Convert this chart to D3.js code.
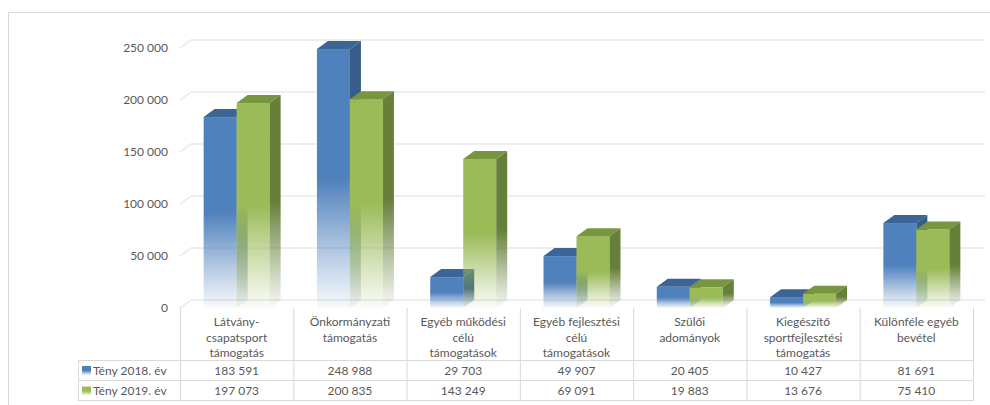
<!DOCTYPE html>
<html>
<head>
<meta charset="utf-8">
<script src="https://cdnjs.cloudflare.com/ajax/libs/d3/7.8.5/d3.min.js"></script>
<style>
  body { margin: 0; background: #fff; }
  svg text { font-family: Lato, "Liberation Sans", sans-serif; font-size: 12px; fill: #595959; }
</style>
</head>
<body>
<script>
const categories = [
  ["Látvány-", "csapatsport", "támogatás"],
  ["Önkormányzati", "támogatás"],
  ["Egyéb működési", "célú", "támogatások"],
  ["Egyéb fejlesztési", "célú", "támogatások"],
  ["Szülői", "adományok"],
  ["Kiegészítő", "sportfejlesztési", "támogatás"],
  ["Különféle egyéb", "bevétel"]
];
const seriesNames = ["Tény 2018. év", "Tény 2019. év"];
const values2018 = [183591, 248988, 29703, 49907, 20405, 10427, 81691];
const values2019 = [197073, 200835, 143249, 69091, 19883, 13676, 75410];
const yTicks = [0, 50000, 100000, 150000, 200000, 250000];

const WIDTH = 990, HEIGHT = 405;

// 3d depth offset
let dx = 11, dy = -8;
let barW = 33;

let colors = [
  {front: "#4f81bd", top: "#3c6494", side: "#385d8a"},
  {front: "#9bbb59", top: "#77963f", side: "#66803a"}
];

let svg = d3.select("body").append("svg")
  .attr("width", WIDTH)
  .attr("height", HEIGHT);

svg.append("rect")
  .attr("width", "100%")
  .attr("height", "100%")
  .attr("fill", "#fff");

// outer chart border
svg.append("rect")
  .attr("x", 8.5)
  .attr("y", 12.5)
  .attr("width", 1000)
  .attr("height", 420)
  .attr("fill", "none")
  .attr("stroke", "#d9d9d9");

let x = d3.scaleBand()
  .domain(d3.range(categories.length))
  .range([180, 973]);

let y = d3.scaleLinear()
  .domain([0, 250000])
  .range([308, 48]);

let fmt = v => d3.format(",")(v).replace(/,/g, " ");

// gradients fading to the bottom
let defs = svg.append("defs");
colors.forEach((c, i) => {
  ["front", "side"].forEach(face => {
    let g = defs.append("linearGradient")
      .attr("id", "g" + i + face)
      .attr("x1", 0).attr("y1", 0).attr("x2", 0).attr("y2", 1);
    g.append("stop").attr("offset", 0).attr("stop-color", c[face]).attr("stop-opacity", 1);
    g.append("stop").attr("offset", 0.5).attr("stop-color", c[face]).attr("stop-opacity", 1);
    g.append("stop").attr("offset", 0.8).attr("stop-color", c[face]).attr("stop-opacity", 0.4);
    g.append("stop").attr("offset", 1).attr("stop-color", c[face]).attr("stop-opacity", 0.04);
  });
});

// gridlines on back wall
let grid = svg.append("g");
yTicks.forEach(t => {
  let yy = y(t);
  grid.append("path")
    .attr("d", "M180," + yy + "L" + (180 + dx) + "," + (yy + dy) + "L" + (973 + dx + 1) + "," + (yy + dy))
    .attr("fill", "none")
    .attr("stroke", "#e9e9e9")
    .attr("stroke-width", 1.5);
});

// y axis labels
svg.append("g").selectAll("text")
  .data(yTicks)
.enter().append("text")
  .attr("x", 168)
  .attr("y", d => y(d))
  .attr("dy", "0.35em")
  .attr("text-anchor", "end")
  .text(d => fmt(d));

// bars
function drawBar(g, x0, v, i) {
  let c = colors[i];
  let y0 = y(0), y1 = y(v);
  g.append("rect")
    .attr("x", x0)
    .attr("y", y1)
    .attr("width", barW)
    .attr("height", y0 - y1)
    .attr("fill", "url(#g" + i + "front)");
  g.append("path")
    .attr("d", "M" + x0 + "," + y1 + "L" + (x0 + dx) + "," + (y1 + dy) +
               "L" + (x0 + barW + dx) + "," + (y1 + dy) + "L" + (x0 + barW) + "," + y1 + "Z")
    .attr("fill", c.top);
  g.append("path")
    .attr("d", "M" + (x0 + barW) + "," + y1 + "L" + (x0 + barW + dx) + "," + (y1 + dy) +
               "L" + (x0 + barW + dx) + "," + (y0 + dy) + "L" + (x0 + barW) + "," + y0 + "Z")
    .attr("fill", "url(#g" + i + "side)");
}

let bars = svg.append("g");
categories.forEach((cat, k) => {
  let cx = x(k) + x.bandwidth() / 2;
  let g = bars.append("g");
  drawBar(g, cx - barW, values2018[k], 0);
  drawBar(g, cx, values2019[k], 1);
});

// data table
let table = svg.append("g")
  .attr("stroke", "#d9d9d9")
  .attr("stroke-width", 1);

x.domain().forEach(k => {
  table.append("line")
    .attr("x1", x(k) + 0.5).attr("x2", x(k) + 0.5)
    .attr("y1", 308).attr("y2", 400);
});
table.append("line")
  .attr("x1", 973.5).attr("x2", 973.5)
  .attr("y1", 308).attr("y2", 400);
table.append("line")
  .attr("x1", 78.5).attr("x2", 78.5)
  .attr("y1", 360).attr("y2", 400);
[360, 380, 400].forEach(yy => {
  table.append("line")
    .attr("x1", 78).attr("x2", 974)
    .attr("y1", yy + 0.5).attr("y2", yy + 0.5);
});

// category labels
let catText = svg.append("g").selectAll("text")
  .data(categories)
.enter().append("text")
  .attr("text-anchor", "middle");
catText.selectAll("tspan")
  .data((d, k) => d.map(line => ({line: line, k: k})))
.enter().append("tspan")
  .attr("x", d => x(d.k) + x.bandwidth() / 2)
  .attr("y", (d, j) => 322 + j * 15.5)
  .attr("dy", "0.35em")
  .text(d => d.line);

// value rows
[values2018, values2019].forEach((vals, i) => {
  let rowY = 370.5 + i * 20.5;
  svg.append("g").selectAll("text")
    .data(vals)
  .enter().append("text")
    .attr("x", (d, k) => x(k) + x.bandwidth() / 2)
    .attr("y", rowY)
    .attr("dy", "0.35em")
    .attr("text-anchor", "middle")
    .text(d => fmt(d));

  svg.append("rect")
    .attr("x", 82)
    .attr("y", rowY - 4.5)
    .attr("width", 9)
    .attr("height", 9)
    .attr("fill", "url(#g" + i + "front)");
  svg.append("text")
    .attr("x", 93)
    .attr("y", rowY)
    .attr("dy", "0.35em")
    .text(seriesNames[i]);
});
</script>
</body>
</html>
